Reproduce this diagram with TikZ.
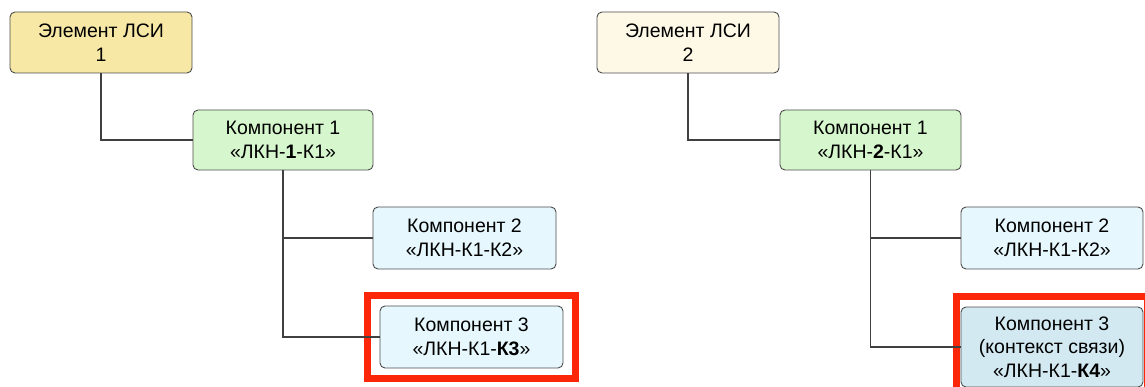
\documentclass[tikz,border=0pt]{standalone}
\usepackage{fontspec}
\setmainfont{Liberation Sans}
\usetikzlibrary{fit}
\begin{document}
\begin{tikzpicture}[x=1pt,y=-1pt,
	box/.style={draw=black!70,line width=0.9pt,rounded corners=5pt,align=center,
		inner sep=0pt,font=\fontsize{19.5}{23.5}\selectfont},
	elem/.style={box,minimum width=182pt,minimum height=61pt},
	comp/.style={box,minimum width=182pt,minimum height=61pt},
	link/.style={draw=black!75,line width=1.3pt},
	hilite/.style={draw=hired,line width=7pt}]
\definecolor{elemA}{RGB}{247,232,165}
\definecolor{elemB}{RGB}{254,249,231}
\definecolor{compG}{RGB}{214,247,205}
\definecolor{compL}{RGB}{230,247,253}
\definecolor{compD}{RGB}{211,233,241}
\definecolor{hired}{RGB}{252,38,8}
	\useasboundingbox (0,0) rectangle (1145,387);
	% left tree
	\node[elem,fill=elemA] (e1) at (101,42.5) {Элемент ЛСИ\\1};
	\node[comp,fill=compG,minimum width=180pt,minimum height=60pt] (k11) at (283,140) {Компонент 1\\«ЛКН-\textbf{1}-К1»};
	\node[comp,fill=compL,minimum width=183pt,minimum height=62pt] (k12) at (464.5,238) {Компонент 2\\«ЛКН-К1-К2»};
	\node[comp,fill=compL,minimum width=183pt,minimum height=62pt] (k13) at (471.5,337) {Компонент 3\\«ЛКН-К1-\textbf{К3}»};
	\node[hilite,fit=(k13),inner xsep=12pt,inner ysep=10pt] (f1) {};
	\draw[link] (e1.south) |- (k11.west);
	\draw[link] (k11.south) |- (k12.west);
	\draw[link] (k11.south) |- (k13.west);
	% right tree
	\node[elem,fill=elemB] (e2) at (688,42.5) {Элемент ЛСИ\\2};
	\node[comp,fill=compG,minimum width=181pt,minimum height=60pt] (k21) at (870.5,140) {Компонент 1\\«ЛКН-\textbf{2}-К1»};
	\node[comp,fill=compL,minimum height=62pt] (k22) at (1052,238) {Компонент 2\\«ЛКН-К1-К2»};
	\node[comp,fill=compD,minimum height=80pt] (k23) at (1052,347) {Компонент 3\\(контекст связи)\\«ЛКН-К1-\textbf{К4}»};
	\node[hilite,fit=(k23),inner xsep=4.5pt,inner ysep=10pt] (f2) {};
	\draw[link] (e2.south) |- (k21.west);
	\draw[link] (k21.south) |- (k22.west);
	\draw[link] (k21.south) |- (k23.west);
\end{tikzpicture}
\end{document}
